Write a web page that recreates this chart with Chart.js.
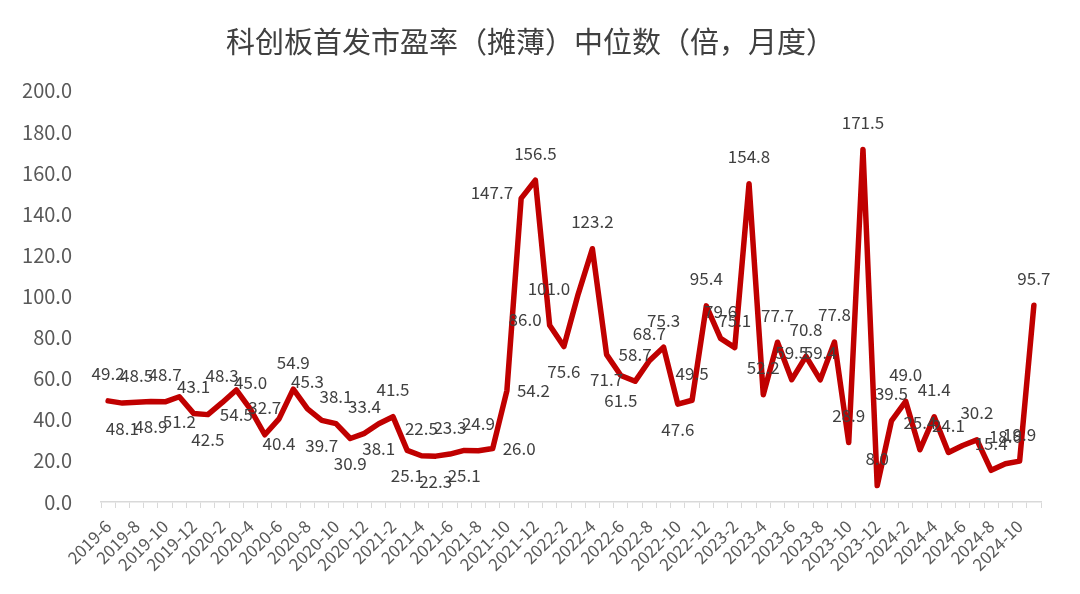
<!DOCTYPE html>
<html>
<head>
<meta charset="utf-8">
<script src="https://cdn.jsdelivr.net/npm/chart.js@4"></script>
<style>
  body { margin: 0; background: #fff; }
  #wrap { width: 1080px; height: 594px; position: relative; }
</style>
</head>
<body>
<div id="wrap"><canvas id="chart"></canvas></div>
<script>
const months = [
  '2019-6','2019-7','2019-8','2019-9','2019-10','2019-11','2019-12',
  '2020-1','2020-2','2020-3','2020-4','2020-5','2020-6','2020-7','2020-8','2020-9','2020-10','2020-11','2020-12',
  '2021-1','2021-2','2021-3','2021-4','2021-5','2021-6','2021-7','2021-8','2021-9','2021-10','2021-11','2021-12',
  '2022-1','2022-2','2022-3','2022-4','2022-5','2022-6','2022-7','2022-8','2022-9','2022-10','2022-11','2022-12',
  '2023-1','2023-2','2023-3','2023-4','2023-5','2023-6','2023-7','2023-8','2023-9','2023-10','2023-11','2023-12',
  '2024-1','2024-2','2024-3','2024-4','2024-5','2024-6','2024-7','2024-8','2024-9','2024-10','2024-11'
];

// 首发市盈率（摊薄）中位数，倍
const peMedian = [
  49.2, 48.1, 48.5, 48.9, 48.7, 51.2, 43.1, 42.5, 48.3, 54.5,
  45.0, 32.7, 40.4, 54.9, 45.3, 39.7, 38.1, 30.9, 33.4, 38.1,
  41.5, 25.1, 22.5, 22.3, 23.3, 25.1, 24.9, 26.0, 54.2, 147.7,
  156.5, 86.0, 75.6, 101.0, 123.2, 71.7, 61.5, 58.7, 68.7, 75.3,
  47.6, 49.5, 95.4, 79.6, 75.1, 154.8, 52.2, 77.7, 59.5, 70.8,
  59.4, 77.8, 28.9, 171.5, 8.0, 39.5, 49.0, 25.4, 41.4, 24.1,
  27.5, 30.2, 15.4, 18.6, 19.9, 95.7
];

const yTicks = [0, 20, 40, 60, 80, 100, 120, 140, 160, 180, 200];

// where each value label sits (default: above the point)
const labelsBelow = [1, 3, 5, 7, 9, 12, 15, 17, 19, 21, 23, 25, 32, 35, 36, 40];
const labelsRight = [27, 28];
const labelsLeft = [29, 31, 33];
const labelsHidden = [60];

const FONT = "'Noto Sans CJK SC', 'Noto Sans', sans-serif";

// value labels drawn next to each point
const valueLabels = {
  id: 'valueLabels',
  afterDatasetsDraw(chart) {
    const ctx = chart.ctx;
    const meta = chart.getDatasetMeta(0);
    ctx.save();
    ctx.font = '17px ' + FONT;
    ctx.fillStyle = '#404040';
    ctx.textBaseline = 'middle';
    meta.data.forEach((pt, i) => {
      if (labelsHidden.includes(i)) return;
      const txt = peMedian[i].toFixed(1);
      let x = pt.x, y = pt.y;
      ctx.textAlign = 'center';
      if (labelsBelow.includes(i)) {
        y += 25;
      } else if (labelsRight.includes(i)) {
        x += 10;
        ctx.textAlign = 'left';
      } else if (labelsLeft.includes(i)) {
        x -= 8;
        ctx.textAlign = 'right';
        y -= 6;
      } else {
        y -= 27;
      }
      ctx.fillText(txt, x, y);
    });
    ctx.restore();
  }
};

const chart = document.querySelector('#chart').getContext('2d');

new Chart(chart, {
  type: 'line',
  data: {
    labels: months,
    datasets: [
      {
        label: '首发市盈率（摊薄）中位数',
        data: peMedian,
        borderColor: '#C00000',
        borderWidth: 5.5,
        borderJoinStyle: 'round',
        borderCapStyle: 'round',
        pointRadius: 0,
        tension: 0
      }
    ]
  },
  options: {
    responsive: true,
    maintainAspectRatio: false,
    animation: false,
    layout: { padding: { left: 20, right: 39, top: 0, bottom: 0 } },
    plugins: {
      legend: { display: false },
      tooltip: { enabled: false },
      title: {
        display: true,
        text: '科创板首发市盈率（摊薄）中位数（倍，月度）',
        color: '#404040',
        font: { family: FONT, size: 29, weight: 'normal' },
        padding: { top: 25, bottom: 31 }
      }
    },
    scales: {
      x: {
        type: 'category',
        offset: true,
        grid: {
          display: true,
          drawOnChartArea: false,
          drawTicks: true,
          tickLength: 6,
          color: '#d9d9d9',
          offset: true
        },
        border: { display: true, color: '#d9d9d9', width: 1.5 },
        ticks: {
          autoSkip: false,
          maxRotation: 45,
          minRotation: 45,
          padding: 8,
          color: '#595959',
          font: { family: FONT, size: 17 },
          callback: (v, i) => (i % 2 === 0 ? months[i] : '')
        },
        afterFit: (s) => { s.height = 92; }
      },
      y: {
        min: yTicks[0],
        max: yTicks[yTicks.length - 1],
        grid: { display: false },
        border: { display: false },
        afterBuildTicks: (s) => { s.ticks = yTicks.map(v => ({ value: v })); },
        ticks: {
          padding: 21,
          color: '#595959',
          font: { family: FONT, size: 20 },
          callback: (v) => v.toFixed(1)
        },
        afterFit: (s) => { s.width = 81; }
      }
    }
  },
  plugins: [valueLabels]
});
</script>
</body>
</html>
